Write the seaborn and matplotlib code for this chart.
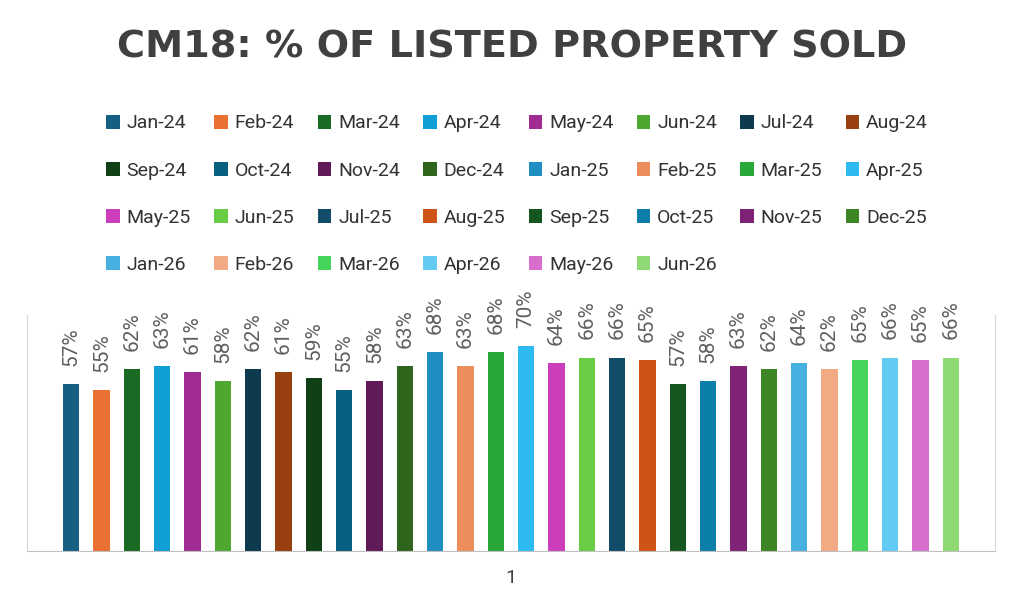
import colorsys
import numpy as np
import pandas as pd
import seaborn as sns
import matplotlib.pyplot as plt
import matplotlib.colors as mcolors

# Dados: % de imóveis listados que foram vendidos, por mês
months = ["Jan-24", "Feb-24", "Mar-24", "Apr-24", "May-24", "Jun-24",
          "Jul-24", "Aug-24", "Sep-24", "Oct-24", "Nov-24", "Dec-24",
          "Jan-25", "Feb-25", "Mar-25", "Apr-25", "May-25", "Jun-25",
          "Jul-25", "Aug-25", "Sep-25", "Oct-25", "Nov-25", "Dec-25",
          "Jan-26", "Feb-26", "Mar-26", "Apr-26", "May-26", "Jun-26"]
sold_pct = [57, 55, 62, 63, 61, 58,
            62, 61, 59, 55, 58, 63,
            68, 63, 68, 70, 64, 66,
            66, 65, 57, 58, 63, 62,
            64, 62, 65, 66, 65, 66]
category = "1"

df = pd.DataFrame({"month": months, "value": np.array(sold_pct) / 100, "cat": category})

# Paleta estilo Excel (acentos + variações de luminosidade)
accents = ["#156082", "#E97132", "#196B24", "#0F9ED5", "#A02B93", "#4EA72E"]
variants = [(1.0, 0.0), (0.6, 0.0), (0.8, 0.2), (0.8, 0.0), (0.6, 0.4)]


def lum(hexc, mod, off):
    r, g, b = mcolors.to_rgb(hexc)
    h, l, s = colorsys.rgb_to_hls(r, g, b)
    l = min(1, l * mod + off)
    return colorsys.hls_to_rgb(h, l, s)


palette = [lum(c, m, o) for (m, o) in variants for c in accents]

fig = plt.figure(figsize=(10.24, 6.08), dpi=100)
ax = fig.add_axes([27 / 1024, 1 - 551 / 608, 968 / 1024, 236 / 608])

sns.barplot(data=df, x="cat", y="value", hue="month", hue_order=months,
            palette=palette, width=0.94, gap=0.47, ax=ax, saturation=1)

ax.set_ylim(0, 0.805)
ax.set_xlim(-0.5, 0.5)
ax.set_xlabel("")
ax.set_ylabel("")
ax.set_yticks([])
ax.tick_params(axis="x", length=0, labelsize=14, labelcolor="#404040", pad=13)
for t in ax.get_xticklabels():
    t.set_fontfamily("Roboto")

for side in ["left", "right"]:
    ax.spines[side].set_color("#d9d9d9")
ax.spines["top"].set_visible(False)
ax.spines["bottom"].set_color("#bfbfbf")

for cont, v in zip(ax.containers, sold_pct):
    ax.bar_label(cont, labels=[f"{v}%"], rotation=90, padding=13,
                 fontsize=15, color="#606060", fontfamily="Roboto",
                 fontweight="normal")

# legenda em ordem por linhas (8 colunas)
handles, labels = ax.get_legend_handles_labels()
ax.get_legend().remove()
ncol = 8
order = [r * ncol + j for j in range(ncol) for r in range(4) if r * ncol + j < len(labels)]
fig.legend([handles[i] for i in order], [labels[i] for i in order],
           ncol=ncol, loc="upper center",
           bbox_to_anchor=(0.505, 1 - 97 / 608), frameon=False,
           prop={"family": "Roboto", "size": 14}, labelcolor="#333333",
           handlelength=0.7, handleheight=0.7, handletextpad=0.35,
           columnspacing=1.2, labelspacing=1.5)

fig.text(0.5, 1 - 48 / 608, "CM18: % OF LISTED PROPERTY SOLD",
         ha="center", va="center", fontsize=27.5, fontweight="bold",
         color="#404040", fontfamily="DejaVu Sans")

fig.savefig("out.png", dpi=100)
